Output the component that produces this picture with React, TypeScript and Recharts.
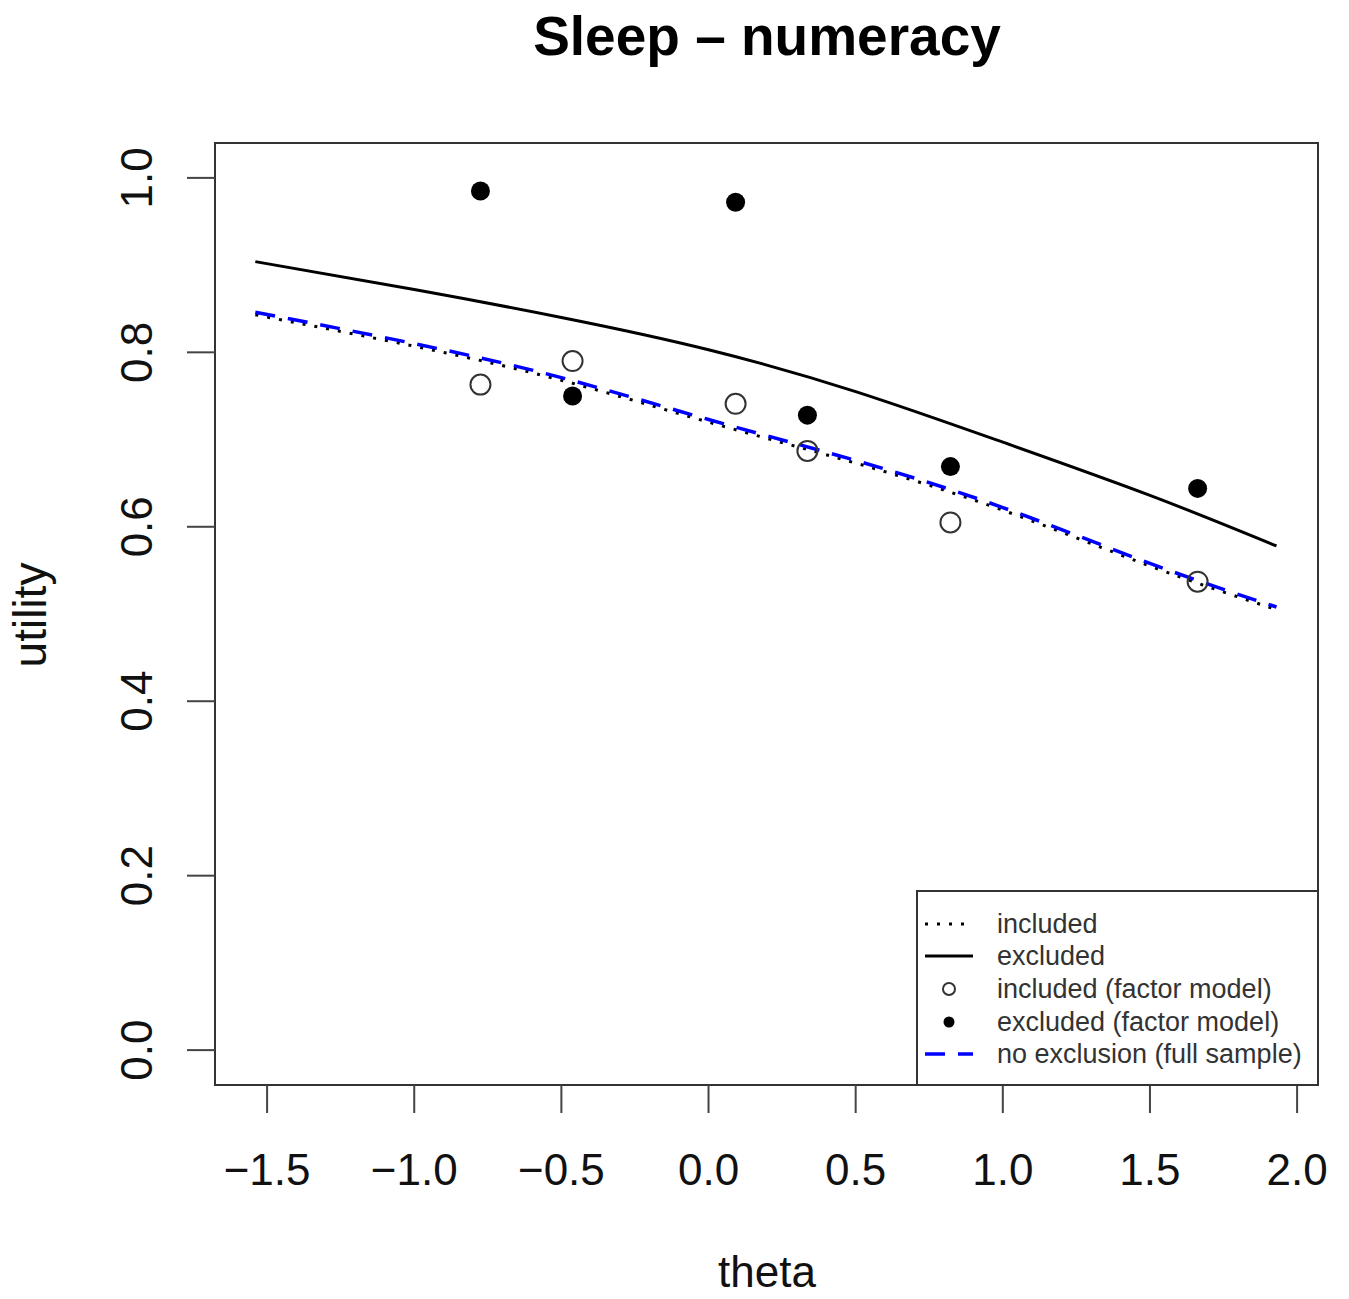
import React from "react";
import {
  ComposedChart,
  Line,
  Scatter,
  XAxis,
  YAxis,
  ReferenceArea,
} from "recharts";

// ---- data ----
const curveTheta = [-1.54, -1.0, -0.5, 0, 0.5, 1.0, 1.5, 1.93];
const excludedCurve = [0.904, 0.872, 0.84, 0.803, 0.755, 0.697, 0.636, 0.578];
const fullSampleCurve = [0.846, 0.81, 0.771, 0.723, 0.676, 0.622, 0.558, 0.508];
const includedCurve = [0.843, 0.807, 0.768, 0.72, 0.673, 0.619, 0.555, 0.505];

const pointTheta = [-0.775, -0.462, 0.092, 0.336, 0.822, 1.662];
const includedFactor = [0.763, 0.79, 0.741, 0.687, 0.605, 0.537];
const excludedFactor = [0.985, 0.75, 0.972, 0.728, 0.669, 0.644];

const xTicks = [-1.5, -1.0, -0.5, 0.0, 0.5, 1.0, 1.5, 2.0];
const yTicks = [0.0, 0.2, 0.4, 0.6, 0.8, 1.0];

const legendLabels = [
  "included",
  "excluded",
  "included (factor model)",
  "excluded (factor model)",
  "no exclusion (full sample)",
];

const X_DOMAIN: [number, number] = [-1.677, 2.071];
const Y_DOMAIN: [number, number] = [-0.04, 1.04];

const toRows = (xs: number[], ys: number[]) =>
  xs.map((x, i) => ({ x, y: ys[i] }));

const excludedData = toRows(curveTheta, excludedCurve);
const fullData = toRows(curveTheta, fullSampleCurve);
const includedData = toRows(curveTheta, includedCurve);
const inclPts = toRows(pointTheta, includedFactor);
const exclPts = toRows(pointTheta, excludedFactor);

const FONT = "'Liberation Sans', Arial, Helvetica, sans-serif";
const fmt = (v: number) => v.toFixed(1).replace("-", "\u2212");

const XTick = (props: any) => {
  const { x, payload } = props;
  return (
    <text
      x={x}
      y={1185}
      textAnchor="middle"
      fontSize={44}
      fontFamily={FONT}
      fill="#111"
    >
      {fmt(payload.value)}
    </text>
  );
};

const YTick = (props: any) => {
  const { y, payload } = props;
  const bx = 152;
  return (
    <text
      x={bx}
      y={y}
      transform={`rotate(-90 ${bx} ${y})`}
      textAnchor="middle"
      fontSize={44}
      fontFamily={FONT}
      fill="#111"
    >
      {fmt(payload.value)}
    </text>
  );
};

const OpenDot = (p: any) => (
  <circle cx={p.cx} cy={p.cy} r={10} fill="none" stroke="#333" strokeWidth={2} />
);
const FilledDot = (p: any) => (
  <circle cx={p.cx} cy={p.cy} r={9.5} fill="#000" stroke="none" />
);

const Legend = () => {
  const rowY = [34, 66, 99, 132, 164];
  return (
    <svg
      width={403}
      height={196}
      style={{ position: "absolute", left: 916, top: 890 }}
    >
      <rect x={1} y={1} width={401} height={194} fill="#fff" stroke="#333" strokeWidth={2} />
      <line x1={9} x2={57} y1={rowY[0]} y2={rowY[0]} stroke="#000" strokeWidth={3} strokeDasharray="3 9" />
      <line x1={9} x2={57} y1={rowY[1]} y2={rowY[1]} stroke="#000" strokeWidth={3} />
      <circle cx={33} cy={rowY[2]} r={6} fill="none" stroke="#333" strokeWidth={2} />
      <circle cx={33} cy={rowY[3]} r={5.5} fill="#000" />
      <line x1={9} x2={57} y1={rowY[4]} y2={rowY[4]} stroke="#0000ff" strokeWidth={3.5} strokeDasharray="20 13" />
      {legendLabels.map((t, i) => (
        <text
          key={t}
          x={81}
          y={rowY[i] + 9}
          fontSize={27}
          fontFamily={FONT}
          fill="#333"
        >
          {t}
        </text>
      ))}
    </svg>
  );
};

export default function App() {
  return (
    <div
      style={{
        position: "absolute",
        left: 0,
        top: 0,
        width: 1349,
        height: 1299,
        background: "#fff",
        fontFamily: FONT,
      }}
    >
      <ComposedChart
        width={1349}
        height={1299}
        margin={{ top: 143, right: 31, bottom: 0, left: 0 }}
      >
        <XAxis
          type="number"
          dataKey="x"
          domain={X_DOMAIN}
          ticks={xTicks}
          allowDataOverflow
          axisLine={false}
          tickLine={{ stroke: "#444", strokeWidth: 2 }}
          tickSize={28}
          height={214}
          tick={<XTick />}
          interval={0}
        />
        <YAxis
          type="number"
          dataKey="y"
          domain={Y_DOMAIN}
          ticks={yTicks}
          allowDataOverflow
          axisLine={false}
          tickLine={{ stroke: "#444", strokeWidth: 2 }}
          tickSize={28}
          width={215}
          tick={<YTick />}
          interval={0}
        />
        <ReferenceArea
          x1={X_DOMAIN[0]}
          x2={X_DOMAIN[1]}
          y1={Y_DOMAIN[0]}
          y2={Y_DOMAIN[1]}
          fill="none"
          stroke="#333"
          strokeWidth={2}
          ifOverflow="visible"
        />
        <Line
          data={excludedData}
          dataKey="y"
          type="natural"
          stroke="#000"
          strokeWidth={3}
          dot={false}
          activeDot={false}
          isAnimationActive={false}
        />
        <Line
          data={includedData}
          dataKey="y"
          type="natural"
          stroke="#000"
          strokeWidth={3}
          strokeDasharray="3 9"
          dot={false}
          activeDot={false}
          isAnimationActive={false}
        />
        <Line
          data={fullData}
          dataKey="y"
          type="natural"
          stroke="#0000ff"
          strokeWidth={3.5}
          strokeDasharray="20 13"
          dot={false}
          activeDot={false}
          isAnimationActive={false}
        />
        <Scatter data={inclPts} dataKey="y" shape={<OpenDot />} isAnimationActive={false} />
        <Scatter data={exclPts} dataKey="y" shape={<FilledDot />} isAnimationActive={false} />
      </ComposedChart>

      <div
        style={{
          position: "absolute",
          left: 0,
          width: 1534,
          top: 0,
          textAlign: "center",
          fontSize: 55,
          fontWeight: "bold",
          lineHeight: "72px",
          color: "#000",
        }}
      >
        Sleep – numeracy
      </div>
      <div
        style={{
          position: "absolute",
          left: 0,
          width: 1534,
          top: 1244,
          textAlign: "center",
          fontSize: 44,
          lineHeight: "56px",
          color: "#111",
        }}
      >
        theta
      </div>
      <svg width={70} height={1299} style={{ position: "absolute", left: 0, top: 0 }}>
        <text
          x={46}
          y={615}
          transform="rotate(-90 46 615)"
          textAnchor="middle"
          fontSize={46}
          fontFamily={FONT}
          fill="#111"
        >
          utility
        </text>
      </svg>
      <Legend />
    </div>
  );
}
